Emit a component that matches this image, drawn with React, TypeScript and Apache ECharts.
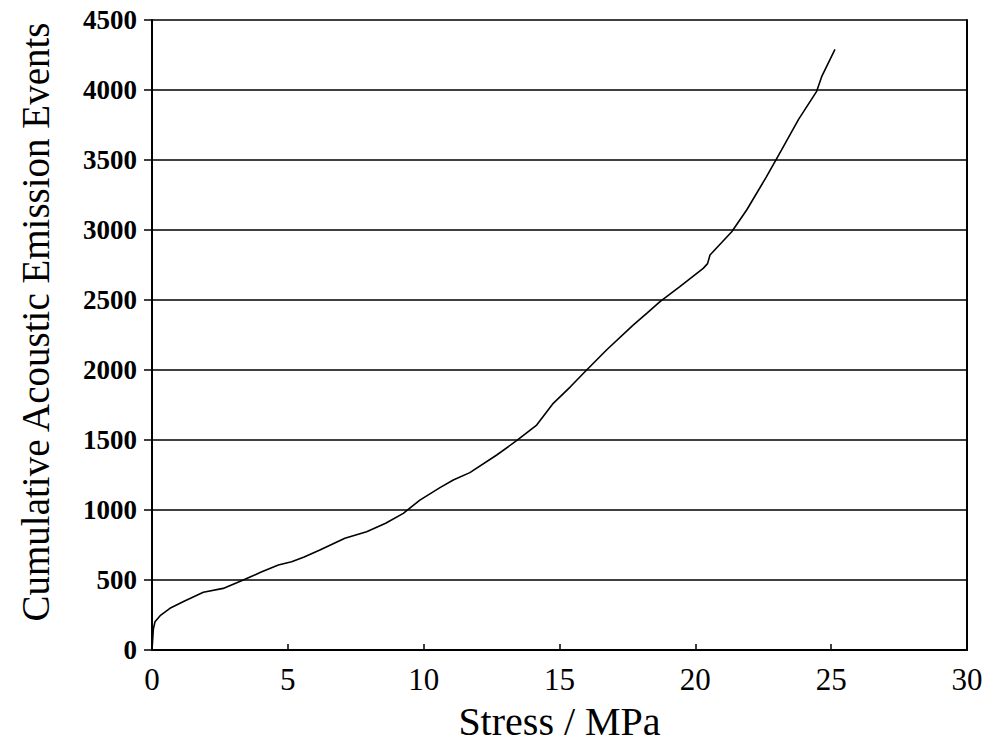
import React, { useEffect, useRef } from "react";
import * as echarts from "echarts";

const stress: number[] = [0, 0.05, 0.11, 0.3, 0.66, 1.2, 1.89, 2.62, 3.36, 4.0, 4.65, 5.14, 5.6, 6.18, 7.1, 7.9, 8.6, 9.25, 9.86, 10.6, 11.09, 11.7, 12.69, 13.42, 14.16, 14.77, 15.4, 16.0, 16.73, 17.71, 18.21, 18.7, 19.43, 20.29, 20.45, 20.54, 21.34, 21.89, 22.62, 23.17, 23.8, 24.46, 24.65, 25.14];
const events: number[] = [0, 150, 202, 245, 298, 350, 412, 440, 500, 555, 607, 631, 665, 714, 798, 845, 905, 976, 1071, 1160, 1214, 1267, 1393, 1495, 1607, 1762, 1880, 2000, 2143, 2321, 2405, 2488, 2595, 2726, 2760, 2821, 2988, 3143, 3381, 3571, 3790, 3988, 4095, 4290];

const xTitle = "Stress / MPa";
const yTitle = "Cumulative Acoustic Emission Events";

export default function App() {
  const ref = useRef<HTMLDivElement>(null);
  useEffect(() => {
    if (!ref.current) return;
    const chart = echarts.init(ref.current, undefined, { renderer: "svg" });
    const font = "'Liberation Serif', 'Times New Roman', serif";
    chart.setOption({
      animation: false,
      backgroundColor: "#ffffff",
      grid: { left: 152, right: 23, top: 20, bottom: 94, containLabel: false, outerBoundsMode: "none" },
      graphic: [
        {
          type: "text",
          x: 35,
          y: 322,
          rotation: Math.PI / 2,
          style: {
            text: yTitle,
            fontFamily: font,
            fontSize: 39,
            fill: "#000",
            textAlign: "center",
            textVerticalAlign: "middle",
          },
        },
      ],
      xAxis: {
        type: "value",
        min: 0,
        max: 30,
        interval: 5,
        name: xTitle,
        nameLocation: "middle",
        nameGap: 50,
        nameTextStyle: { fontFamily: font, fontSize: 40, lineHeight: 42, color: "#000" },
        axisLine: { onZero: false, lineStyle: { color: "#000", width: 2 } },
        axisTick: { inside: true, length: 6, lineStyle: { color: "#000", width: 1.5 } },
        axisLabel: { fontFamily: font, fontSize: 31, color: "#000", margin: 14 },
        splitLine: { show: false },
      },
      yAxis: [
        {
          type: "value",
          min: 0,
          max: 4500,
          interval: 500,
          axisLine: { show: true, lineStyle: { color: "#000", width: 2 } },
          axisTick: { show: true, length: 8, lineStyle: { color: "#000", width: 1.5 } },
          axisLabel: {
            fontFamily: font,
            fontSize: 27,
            fontWeight: "bold",
            color: "#000",
            margin: 15,
            formatter: (v: number) => String(v),
          },
          splitLine: { show: true, lineStyle: { color: "#000", width: 1.6 } },
        },
        {
          type: "value",
          min: 0,
          max: 4500,
          interval: 500,
          position: "right",
          axisLine: { show: true, lineStyle: { color: "#000", width: 2 } },
          axisTick: { show: false },
          axisLabel: { show: false },
          splitLine: { show: false },
        },
      ],
      series: [
        {
          type: "line",
          data: stress.map((s, i) => [s, events[i]]),
          showSymbol: false,
          symbol: "none",
          smooth: false,
          lineStyle: { color: "#000", width: 1.6 },
        },
      ],
    });
    return () => chart.dispose();
  }, []);
  return <div ref={ref} style={{ width: 990, height: 744, position: "absolute", left: 0, top: 0 }} />;
}
